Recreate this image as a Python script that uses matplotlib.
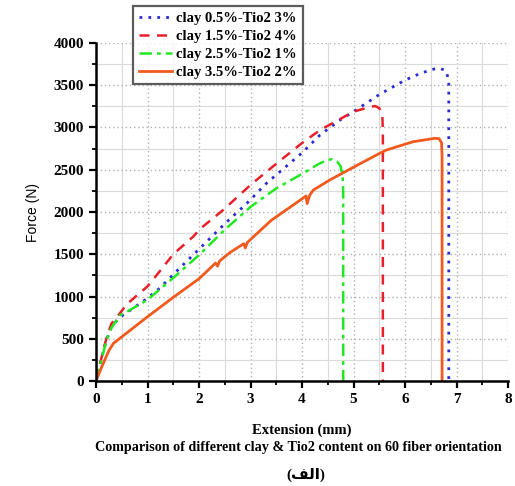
import numpy as np
import matplotlib
matplotlib.use("Agg")
import matplotlib.pyplot as plt
from matplotlib.ticker import MultipleLocator

# series (extension mm, force N)
blue_x = [0, 0.1, 0.2, 0.3, 0.45, 0.6, 1.0, 1.24, 1.5, 2.0, 2.5, 2.93, 3.31, 4.0, 4.35, 4.74, 5.0, 5.5, 6.0, 6.3, 6.55, 6.68, 6.8, 6.85, 6.85]
blue_y = [0, 250, 480, 640, 750, 810, 980, 1100, 1260, 1560, 1860, 2103, 2340, 2700, 2911, 3089, 3187, 3390, 3560, 3641, 3690, 3700, 3670, 3550, 0]

red_x = [0, 0.1, 0.2, 0.3, 0.45, 0.6, 1.0, 1.24, 1.5, 1.89, 2.02, 2.47, 3.0, 3.51, 4.0, 4.35, 5.0, 5.3, 5.42, 5.5, 5.56, 5.57, 5.57]
red_y = [0, 260, 500, 680, 790, 910, 1120, 1300, 1500, 1710, 1800, 2024, 2320, 2576, 2816, 2970, 3187, 3240, 3254, 3230, 3150, 2950, 0]

green_x = [0, 0.1, 0.2, 0.3, 0.47, 0.6, 1.0, 1.5, 2.0, 2.5, 3.0, 3.5, 4.0, 4.3, 4.48, 4.58, 4.68, 4.75, 4.79, 4.8, 4.8]
green_y = [0, 240, 470, 630, 780, 820, 960, 1220, 1490, 1790, 2060, 2280, 2450, 2560, 2615, 2624, 2600, 2540, 2420, 2250, 0]

orange_x = [0, 0.1, 0.17, 0.25, 0.34, 0.6, 1.0, 1.5, 2.0, 2.32, 2.36, 2.4, 2.6, 2.87, 2.9, 2.94, 3.4, 4.08, 4.1, 4.15, 4.22, 4.54, 5.0, 5.51, 5.64, 6.16, 6.58, 6.66, 6.71, 6.72, 6.72]
orange_y = [0, 150, 248, 360, 446, 570, 760, 990, 1210, 1395, 1360, 1420, 1520, 1625, 1575, 1640, 1900, 2190, 2100, 2200, 2260, 2379, 2530, 2695, 2734, 2832, 2872, 2868, 2820, 2650, 0]

labels = ["clay 0.5%-Tio2 3%", "clay 1.5%-Tio2 4%", "clay 2.5%-Tio2 1%", "clay 3.5%-Tio2 2%"]
x_label = "Extension (mm)"
y_label = "Force (N)"
caption = "Comparison of different clay & Tio2 content on 60 fiber orientation"
# (الف) written in visual order with Arabic presentation forms
caption2 = "(\ufed2\ufedf\ufe8d)"

serif = "Liberation Serif"

fig = plt.figure(figsize=(5.15, 4.86), dpi=100)
ax = fig.add_axes([96 / 515, 105 / 486, 412 / 515, 338 / 486])

ax.plot(blue_x, blue_y, color="#2b2bd6", lw=2.0, linestyle=(0, (1, 2.2)), label=labels[0])
ax.plot(red_x, red_y, color="#e8202a", lw=1.8, linestyle=(0, (4, 3)), label=labels[1])
ax.plot(green_x, green_y, color="#22e822", lw=1.8, linestyle=(0, (5, 2, 1.5, 2)), label=labels[2])
ax.plot(orange_x, orange_y, color="#f05a1e", lw=2.0, label=labels[3])

ax.set_xlim(0, 8)
ax.set_ylim(0, 4000)
ax.xaxis.set_major_locator(MultipleLocator(1))
ax.xaxis.set_minor_locator(MultipleLocator(0.5))
ax.yaxis.set_major_locator(MultipleLocator(500))
ax.yaxis.set_minor_locator(MultipleLocator(250))

ax.grid(which="major", color="#b0b0b0", lw=1.0, linestyle=(0, (1, 2)))
ax.grid(which="minor", color="#dadada", lw=0.8, linestyle="-")
ax.set_axisbelow(True)

for s in ["top", "right"]:
    ax.spines[s].set_visible(False)
for s in ["left", "bottom"]:
    ax.spines[s].set_linewidth(1.8)
ax.tick_params(which="major", direction="out", length=5, width=1.6)
ax.tick_params(which="minor", direction="out", length=3, width=1.3)
for lab in ax.get_xticklabels() + ax.get_yticklabels():
    lab.set_fontfamily(serif)
    lab.set_fontweight("bold")
    lab.set_fontsize(11)

ax.set_ylabel(y_label, fontsize=10, family="Liberation Sans", labelpad=10)
ax.set_xlabel(x_label, fontsize=10.5, family=serif, fontweight="bold", labelpad=13)

fig.text(298.5 / 515, 1 - 447 / 486, caption, ha="center", va="center",
         fontsize=10.2, family=serif, fontweight="bold")
fig.text(306 / 515, 1 - 475 / 486, caption2, ha="center", va="center",
         fontsize=11, family=[serif, "DejaVu Sans"], fontweight="bold")

leg = fig.legend(loc="upper left", bbox_to_anchor=(133 / 515, 1 - 6 / 486),
                 prop={"family": serif, "weight": "bold", "size": 10.5},
                 frameon=True, fancybox=False, handlelength=2.3, handletextpad=0.3,
                 labelspacing=0.33, borderpad=0.38, borderaxespad=0)
leg.get_frame().set_edgecolor("#333333")
leg.get_frame().set_linewidth(1.6)

fig.savefig("out.png", dpi=100)
